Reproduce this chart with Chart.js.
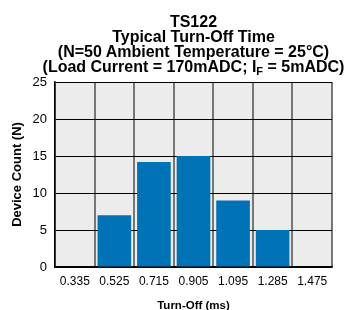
<!DOCTYPE html>
<html lang="en">
  <head>
    <meta charset="UTF-8" />
    <title>TS122 Typical Turn-Off Time</title>
    <script src="https://cdn.jsdelivr.net/npm/chart.js@4.4.0/dist/chart.umd.min.js"></script>
    <style>
      body { margin: 0; background: #fff; }
      #wrap { position: relative; width: 347px; height: 310px; }
      #title {
        position: absolute; left: 40px; top: 14px; width: 307px;
        text-align: center; white-space: nowrap;
        font: bold 16px "Liberation Sans", Arial, sans-serif; line-height: 15px; color: #000;
      }
      #title .sub { font-size: 11px; position: relative; top: 3px; }
    </style>
  </head>
  <body>
    <div id="wrap">
      <canvas id="myChart" width="347" height="310"></canvas>
      <div id="title">
        TS122<br>
        Typical Turn-Off Time<br>
        (N=50 Ambient Temperature = 25°C)<br>
        (Load Current = 170mADC; I<span class="sub">F</span> = 5mADC)
      </div>
    </div>

    <script>
      // values
      const turnOff = ['0.335', '0.525', '0.715', '0.905', '1.095', '1.285', '1.475']
      const deviceCount = [0, 7, 14.2, 15, 9, 5, 0]
      const yTicks = [0, 5, 10, 15, 20, 25]

      const font = "'Liberation Sans', Arial, sans-serif"

      // grey plot background
      const plotBg = {
        id: 'plotBg',
        beforeDraw(chart) {
          const { ctx, chartArea: a } = chart
          ctx.save()
          ctx.fillStyle = '#ececec'
          ctx.fillRect(a.left, a.top, a.right - a.left, a.bottom - a.top)
          ctx.restore()
        }
      }

      const ctx = document.getElementById('myChart').getContext('2d')
      const myChart = new Chart(ctx, {
        type: 'bar',
        data: {
          labels: turnOff,
          datasets: [{
            data: deviceCount,
            backgroundColor: '#0073b6',
            borderWidth: 0,
            barPercentage: 0.85,
            categoryPercentage: 1
          }]
        },
        plugins: [plotBg],
        options: {
          responsive: false,
          animation: false,
          layout: { padding: { top: 82, right: 15, left: 0, bottom: 0 } },
          plugins: { legend: { display: false }, tooltip: { enabled: false } },
          scales: {
            x: {
              afterFit(scale) { scale.height = 43 },
              grid: { color: '#777', lineWidth: 2, drawTicks: false },
              border: { color: '#000', width: 1.5 },
              ticks: { color: '#000', font: { family: font, size: 12 }, padding: 7, maxRotation: 0 },
              title: {
                display: true, text: 'Turn-Off (ms)', color: '#000',
                font: { family: font, size: 11.5, weight: 'bold' }, padding: { top: 0, bottom: -3 }
              }
            },
            y: {
              min: 0, max: 25,
              afterFit(scale) { scale.width = 55 },
              afterBuildTicks(scale) { scale.ticks = yTicks.map(v => ({ value: v })) },
              grid: { color: '#000', lineWidth: 1, drawTicks: false },
              border: { color: '#000', width: 1.5 },
              ticks: { color: '#000', font: { family: font, size: 13 }, padding: 8 },
              title: {
                display: true, text: 'Device Count (N)', color: '#000',
                font: { family: font, size: 13, weight: 'bold' }, padding: { top: 10, bottom: 0 }
              }
            }
          }
        }
      })
    </script>
  </body>
</html>
